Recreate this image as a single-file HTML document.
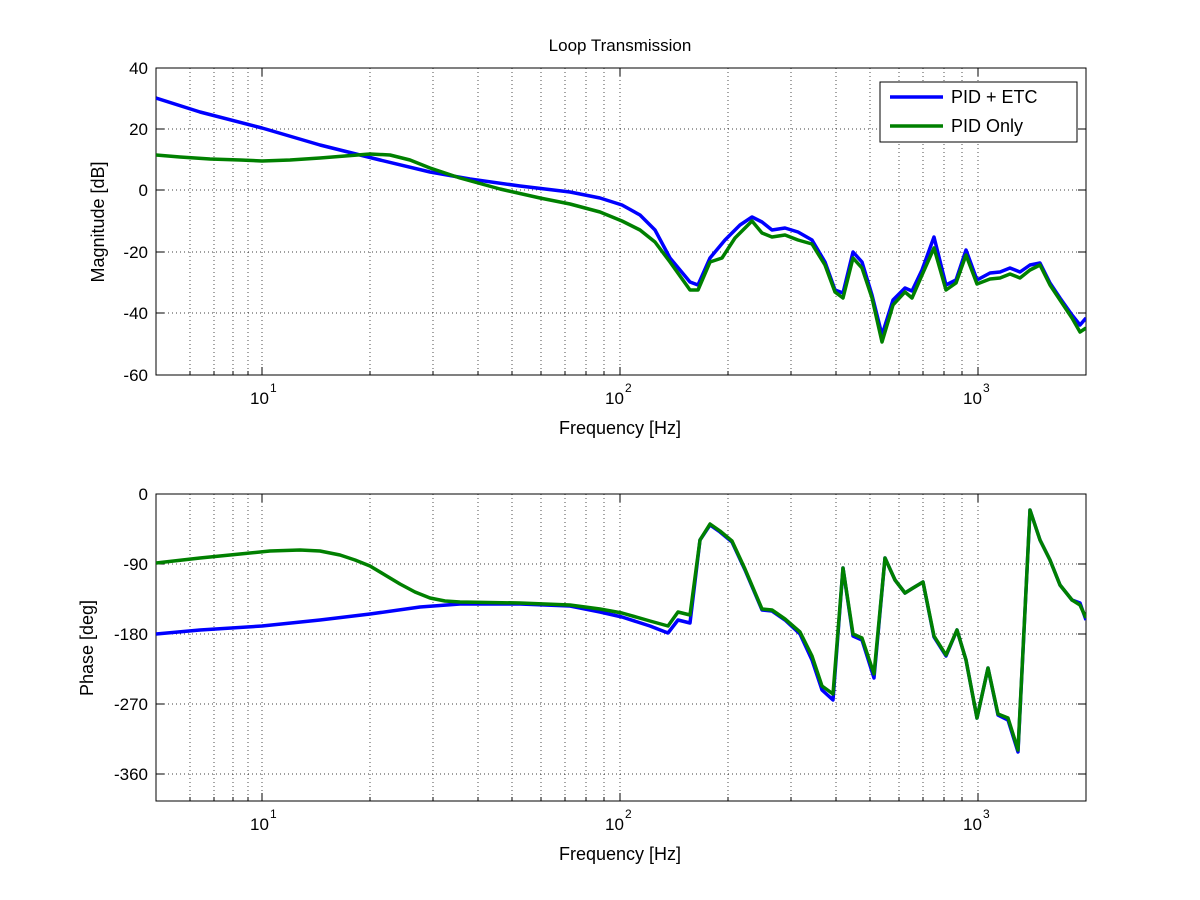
<!DOCTYPE html>
<html><head><meta charset="utf-8"><style>
html,body{margin:0;padding:0;background:#fff}
svg{display:block;font-family:"Liberation Sans",sans-serif}
</style></head><body>
<svg width="1200" height="900" viewBox="0 0 1200 900" xmlns="http://www.w3.org/2000/svg">
<rect width="1200" height="900" fill="#fff"/>
<g stroke="#000" stroke-width="0.7" stroke-dasharray="1,3" fill="none">
<path d="
M190 68V375 M214 68V375 M233 68V375 M248 68V375 M262 68V375
M370 68V375 M433 68V375 M478 68V375 M512 68V375 M541 68V375 M565 68V375 M586 68V375 M604 68V375 M620 68V375
M728 68V375 M791 68V375 M836 68V375 M870 68V375 M899 68V375 M923 68V375 M944 68V375 M962 68V375 M978 68V375
M156 129H1086 M156 190H1086 M156 252H1086 M156 313H1086
M190 494V801 M214 494V801 M233 494V801 M248 494V801 M262 494V801
M370 494V801 M433 494V801 M478 494V801 M512 494V801 M541 494V801 M565 494V801 M586 494V801 M604 494V801 M620 494V801
M728 494V801 M791 494V801 M836 494V801 M870 494V801 M899 494V801 M923 494V801 M944 494V801 M962 494V801 M978 494V801
M156 564H1086 M156 634H1086 M156 704H1086 M156 774H1086
"/>
</g>
<g stroke="#000" stroke-width="1" fill="none">
<rect x="156" y="68" width="930" height="307"/>
<rect x="156" y="494" width="930" height="307"/>
<path d="M262 375v-8M620 375v-8M978 375v-8M262 68v8M620 68v8M978 68v8
M190 375v-4M214 375v-4M233 375v-4M248 375v-4M370 375v-4M433 375v-4M478 375v-4M512 375v-4M541 375v-4M565 375v-4M586 375v-4M604 375v-4M728 375v-4M791 375v-4M836 375v-4M870 375v-4M899 375v-4M923 375v-4M944 375v-4M962 375v-4
M156 129h8M156 190h8M156 252h8M156 313h8M1086 129h-8M1086 190h-8M1086 252h-8M1086 313h-8
M262 801v-8M620 801v-8M978 801v-8M262 494v8M620 494v8M978 494v8
M190 801v-4M214 801v-4M233 801v-4M248 801v-4M370 801v-4M433 801v-4M478 801v-4M512 801v-4M541 801v-4M565 801v-4M586 801v-4M604 801v-4M728 801v-4M791 801v-4M836 801v-4M870 801v-4M899 801v-4M923 801v-4M944 801v-4M962 801v-4
M156 564h8M156 634h8M156 704h8M156 774h8M1086 564h-8M1086 634h-8M1086 704h-8M1086 774h-8"/>
</g>
<g fill="#000" font-size="17">
<text x="620" y="51" text-anchor="middle">Loop Transmission</text>
<g text-anchor="end">
<text x="148" y="74">40</text><text x="148" y="135">20</text><text x="148" y="196">0</text>
<text x="148" y="258">-20</text><text x="148" y="319">-40</text><text x="148" y="381">-60</text>
<text x="148" y="500">0</text><text x="148" y="570">-90</text><text x="148" y="640">-180</text>
<text x="148" y="710">-270</text><text x="148" y="780">-360</text>
</g>
<text x="250" y="404">10</text><text x="270" y="392" font-size="12">1</text>
<text x="605" y="404">10</text><text x="625" y="392" font-size="12">2</text>
<text x="963" y="404">10</text><text x="983" y="392" font-size="12">3</text>
<text x="250" y="830">10</text><text x="270" y="818" font-size="12">1</text>
<text x="605" y="830">10</text><text x="625" y="818" font-size="12">2</text>
<text x="963" y="830">10</text><text x="983" y="818" font-size="12">3</text>
<text x="620" y="434" text-anchor="middle" font-size="18">Frequency [Hz]</text>
<text x="620" y="860" text-anchor="middle" font-size="18">Frequency [Hz]</text>
<text transform="translate(104,222) rotate(-90)" text-anchor="middle" font-size="18">Magnitude [dB]</text>
<text transform="translate(93,648) rotate(-90)" text-anchor="middle" font-size="18">Phase [deg]</text>
</g>
<svg x="156" y="68" width="930" height="307" viewBox="156 68 930 307" overflow="hidden">
<polyline fill="none" stroke="#0000ff" stroke-width="3.5" stroke-linejoin="round" points="156,98 200,112 262,128 320,145 380,160 430,172 470,179 520,186 570,192 600,198 622,205 640,215 655,230 670,258 690,282 698,285 710,258 725,240 740,225 752,217 762,222 772,230 785,228 798,232 812,240 825,262 835,290 843,293 853,252 862,262 872,295 882,335 893,300 905,288 912,291 922,270 934,237 946,285 956,280 966,250 977,280 990,273 1000,272 1010,268 1020,272 1030,265 1040,263 1050,283 1060,298 1072,315 1080,325 1086,318"/>
<polyline fill="none" stroke="#008000" stroke-width="3.5" stroke-linejoin="round" points="156,155 180,157 210,159 240,160 262,161 290,160 320,158 345,156 370,154 390,155 410,160 430,168 460,178 500,189 540,198 570,204 600,212 622,221 640,230 655,242 670,262 690,290 698,290 710,262 722,258 735,238 752,221 762,233 772,237 785,235 798,240 812,244 825,265 835,292 843,298 853,258 862,268 872,298 882,342 893,305 905,292 912,298 922,275 934,248 946,290 956,283 966,255 977,284 990,279 1000,278 1010,274 1020,278 1030,270 1040,265 1050,285 1060,300 1072,318 1080,332 1086,328"/>
</svg>
<svg x="156" y="494" width="930" height="307" viewBox="156 494 930 307" overflow="hidden">
<polyline fill="none" stroke="#0000ff" stroke-width="3.5" stroke-linejoin="round" points="156,634 200,630 262,626 320,620 370,614 420,607 460,604 520,604 570,606 600,612 622,617 650,626 668,633 678,620 690,623 700,540 710,525 720,532 732,542 745,570 762,610 772,611 785,620 800,634 812,660 822,690 833,700 843,568 853,636 862,640 874,678 885,558 895,580 905,593 913,588 923,582 934,637 946,656 957,630 966,660 977,718 988,668 998,715 1008,720 1018,752 1030,510 1040,540 1050,560 1060,585 1072,600 1080,603 1086,620"/>
<polyline fill="none" stroke="#008000" stroke-width="3.5" stroke-linejoin="round" points="156,563 200,558 240,554 270,551 300,550 320,551 340,555 355,560 370,566 385,575 400,584 415,592 430,598 445,601 460,602 520,603 570,605 600,609 622,613 650,621 668,626 678,612 690,615 700,540 710,524 720,531 732,541 745,569 762,609 772,610 785,619 800,632 812,656 822,686 833,694 843,568 853,634 862,638 874,674 885,558 895,580 905,593 913,588 923,582 934,636 946,655 957,630 966,660 977,718 988,668 998,714 1008,718 1018,750 1030,510 1040,540 1050,560 1060,585 1072,600 1080,605 1086,618"/>
</svg>
<rect x="880" y="82" width="197" height="60" fill="#fff" stroke="#000" stroke-width="1"/>
<line x1="890" y1="97" x2="943" y2="97" stroke="#0000ff" stroke-width="3.5"/>
<line x1="890" y1="126" x2="943" y2="126" stroke="#008000" stroke-width="3.5"/>
<text x="951" y="103" font-size="18">PID + ETC</text>
<text x="951" y="132" font-size="18">PID Only</text>
</svg>
</body></html>
